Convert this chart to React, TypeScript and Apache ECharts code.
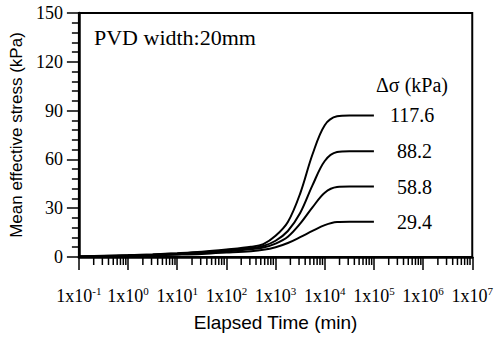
import React, { useEffect, useRef } from "react";
import * as echarts from "echarts";

// Elapsed time (min)
const times = [0.1, 0.316, 1, 3.16, 10, 31.6, 100, 316, 562, 1000, 1778, 3162, 5623, 10000, 17783, 31623, 100000];
// Mean effective stress (kPa) for each Δσ
const s1176 = [0.3, 0.7, 1.1, 1.6, 2.3, 3.2, 4.6, 6.3, 7.9, 13, 21.5, 39, 63, 81, 86.5, 87, 87];
const s882 = [0.3, 0.6, 1.0, 1.5, 2.1, 2.9, 4.1, 5.5, 6.8, 10, 16, 27, 44, 59, 64.5, 65, 65];
const s588 = [0.25, 0.5, 0.9, 1.3, 1.8, 2.5, 3.5, 4.7, 5.8, 8.2, 12.5, 20.5, 30.5, 39.5, 43, 43.3, 43.3];
const s294 = [0.2, 0.4, 0.7, 1.0, 1.4, 1.9, 2.7, 3.6, 4.4, 6.0, 8.6, 12.2, 16.0, 19.6, 21.5, 21.7, 21.7];
const seriesNames = ["117.6", "88.2", "58.8", "29.4"];
const seriesValues = [s1176, s882, s588, s294];
const labelGaps = [16, 23, 23, 23];

const SERIF = "Liberation Serif";
const SANS = "Liberation Sans";

export default function App() {
  const ref = useRef<HTMLDivElement>(null);
  useEffect(() => {
    if (!ref.current) return;
    const chart = echarts.init(ref.current, null, { renderer: "svg" });
    const minorTicks: number[][] = [];
    for (let d = -1; d < 7; d++) {
      for (let k = 2; k <= 9; k++) minorTicks.push([k * Math.pow(10, d), 0]);
    }
    const lineSeries = seriesNames.map((name, i) => ({
      type: "line",
      name,
      data: times.map((t, j) => [t, seriesValues[i][j]]),
      showSymbol: false,
      smooth: 0.35,
      lineStyle: { color: "#000", width: 2 },
      endLabel: {
        show: true,
        formatter: name,
        distance: labelGaps[i],
        fontFamily: SERIF,
        fontSize: 20,
        color: "#000",
      },
      z: 3,
    }));
    chart.setOption({
      animation: false,
      backgroundColor: "#fff",
      textStyle: { fontFamily: SERIF },
      grid: {
        left: 76,
        top: 13,
        right: 22,
        bottom: 81,
        show: true,
        borderColor: "#000",
        borderWidth: 2,
        backgroundColor: "transparent",
      },
      xAxis: {
        type: "log",
        logBase: 10,
        min: 0.1,
        max: 1e7,
        splitNumber: 8,
        name: "Elapsed Time (min)",
        nameLocation: "middle",
        nameGap: 56,
        nameTextStyle: { fontFamily: SANS, fontSize: 19, color: "#000" },
        axisLine: { show: true, lineStyle: { color: "#000", width: 2.5 } },
        axisTick: { show: true, length: 13, lineStyle: { color: "#000", width: 1.5 } },
        splitLine: { show: false },
        axisLabel: {
          margin: 28,
          color: "#000",
          fontFamily: SERIF,
          fontSize: 18,
          formatter: (v: number) => `{b|1x10}{s|${Math.round(Math.log10(v))}}`,
          rich: {
            b: { fontFamily: SERIF, fontSize: 18, lineHeight: 22, verticalAlign: "middle", color: "#000" },
            s: { fontFamily: SERIF, fontSize: 11, lineHeight: 12, verticalAlign: "top", color: "#000" },
          },
        },
      },
      yAxis: {
        type: "value",
        min: 0,
        max: 150,
        interval: 30,
        name: "Mean effective stress (kPa)",
        nameLocation: "middle",
        nameGap: 48,
        nameTextStyle: { fontFamily: SANS, fontSize: 17, color: "#000" },
        axisLine: { show: true, lineStyle: { color: "#000", width: 2.5 } },
        axisTick: { show: true, length: 12, lineStyle: { color: "#000", width: 1.5 } },
        minorTick: { show: true, splitNumber: 5, length: 7, lineStyle: { color: "#000", width: 1.5 } },
        splitLine: { show: false },
        minorSplitLine: { show: false },
        axisLabel: { margin: 16, color: "#000", fontFamily: SERIF, fontSize: 18 },
      },
      graphic: [
        {
          type: "text",
          left: 94,
          top: 26,
          style: { text: "PVD width:20mm", fontFamily: SERIF, fontSize: 22, fill: "#000" },
        },
        {
          type: "text",
          left: 376,
          top: 75,
          style: { text: "Δσ (kPa)", fontFamily: SERIF, fontSize: 20, fill: "#000" },
        },
      ],
      series: [
        ...lineSeries,
        {
          type: "custom",
          data: minorTicks,
          clip: false,
          silent: true,
          z: 5,
          encode: { x: 0, y: 1 },
          renderItem: (params: any, api: any) => {
            const p = api.coord([api.value(0), 0]);
            return {
              type: "line",
              shape: { x1: p[0], y1: p[1] + 1, x2: p[0], y2: p[1] + 8 },
              style: { stroke: "#000", lineWidth: 1.5 },
            };
          },
        },
      ],
    });
    return () => chart.dispose();
  }, []);
  return (
    <div
      ref={ref}
      style={{ position: "fixed", left: 0, top: 0, width: 496, height: 338, background: "#fff" }}
    />
  );
}
